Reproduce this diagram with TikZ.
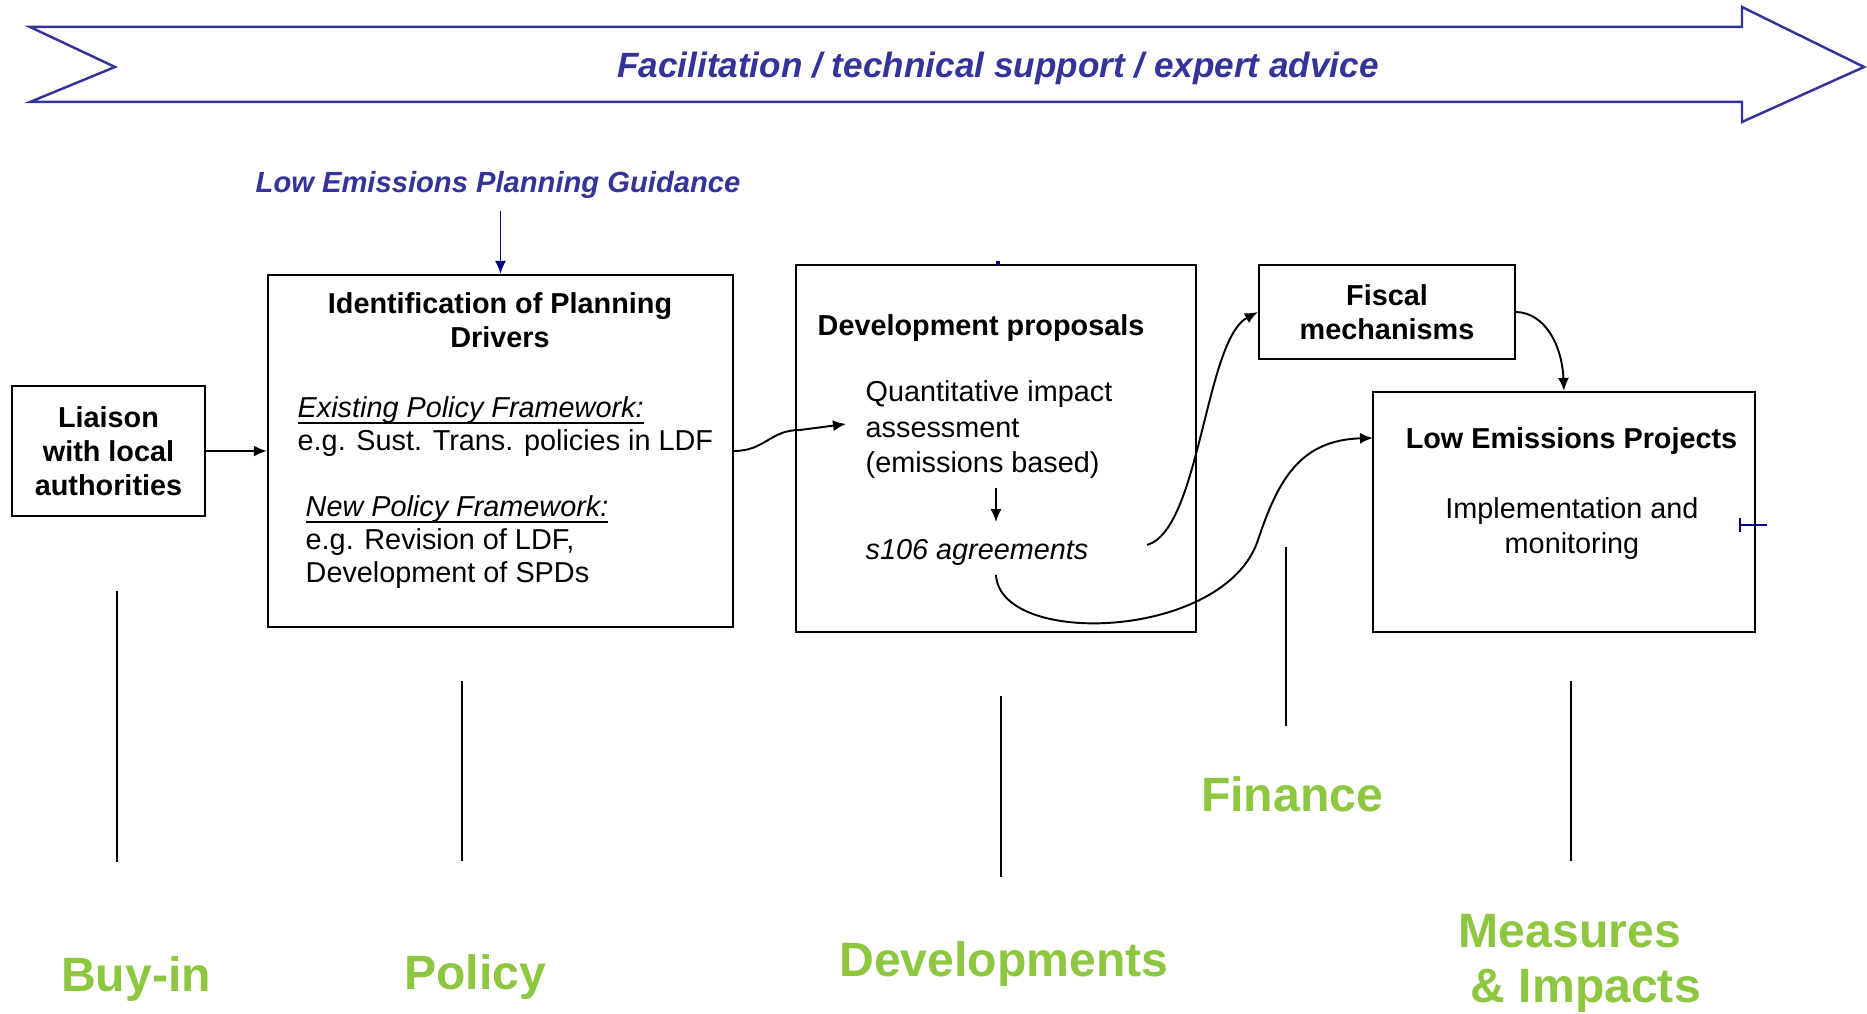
\documentclass[tikz,border=0pt]{standalone}
\usepackage{fontspec}
\setmainfont{Liberation Sans}
\usetikzlibrary{arrows.meta}
\definecolor{advblue}{RGB}{51,51,153}
\definecolor{guidenavy}{RGB}{0,0,128}
\definecolor{stagegreen}{RGB}{141,198,63}
\tikzset{
	box/.style={draw, line width=0.6pt, inner sep=0pt},
	boxtitle/.style={inner sep=0pt, font=\fontsize{8.2}{9.7}\selectfont\bfseries},
	boxtext/.style={inner sep=0pt, font=\fontsize{8.2}{9.4}\selectfont},
	stage/.style={inner sep=0pt, font=\fontsize{13.7}{15.9}\selectfont\bfseries, text=stagegreen},
	divider/.style={line width=0.5pt},
	link/.style={line width=0.55pt, -{Latex[length=1.3mm, width=1.1mm]}},
}

\begin{document}
\begin{tikzpicture}
		%%%%% START %%%%%
		\useasboundingbox (0,0) rectangle (18.67,10.14);
		
		\draw[line width=0.7pt, color=advblue] (0.30,9.87) -- (17.42,9.87) -- (17.42,10.07) -- (18.64,9.47) -- (17.42,8.92) -- (17.42,9.12) -- (0.30,9.12) -- (1.15,9.47) -- cycle;
		\node[font=\fontsize{10}{12}\selectfont\bfseries\itshape, text=advblue, anchor=base] (support) at (9.98,9.36) {Facilitation / technical support / expert advice};
		
		\node[font=\fontsize{8.3}{10}\selectfont\bfseries\itshape, text=advblue, anchor=base] (guide) at (4.98,8.21) {Low Emissions Planning Guidance};
		
		\node[box, minimum width=1.93cm, minimum height=1.30cm, align=center, boxtitle] (liaison) at (1.085,5.63) {Liaison\\with local\\authorities};
		\node[box, minimum width=4.65cm, minimum height=3.52cm] (ident) at (5.005,5.63) {};
		\node[box, minimum width=4.00cm, minimum height=3.67cm] (dev) at (9.96,5.655) {};
		\node[box, minimum width=2.56cm, minimum height=0.94cm, align=center, boxtitle] (fiscal) at (13.87,7.02) {Fiscal\\mechanisms};
		\node[box, minimum width=3.82cm, minimum height=2.40cm] (lep) at (15.64,5.02) {};
		
		\node[boxtitle, align=center, anchor=base] (identtitle) at (5.00,6.66) {Identification of Planning\\Drivers};
		\node[boxtext, align=left, anchor=base west] (existing) at (2.97,5.63) {\underline{\smash{\textit{Existing Policy Framework:}}}\\e.g. Sust. Trans. policies in LDF};
		\node[boxtext, align=left, anchor=base west] (newpol) at (3.05,4.31) {\underline{\smash{\textit{New Policy Framework:}}}\\e.g. Revision of LDF,\\Development of SPDs};
		
		\node[boxtitle, anchor=base west] (devtitle) at (8.17,6.78) {Development proposals};
		\node[boxtext, align=left, anchor=base west, font=\fontsize{8.2}{10.2}\selectfont] (quant) at (8.65,5.41) {Quantitative impact\\assessment\\(emissions based)};
		\node[boxtext, anchor=base west] (s106) at (8.65,4.54) {\textit{s106 agreements}};
		
		\node[boxtitle, anchor=base] (leptitle) at (15.715,5.65) {Low Emissions Projects};
		\node[boxtext, align=center, anchor=base, font=\fontsize{8.2}{10.2}\selectfont] (lepimpl) at (15.72,4.60) {Implementation and\\monitoring};
		
		\coordinate (qin) at (8.46,5.90);
		\coordinate (s106r) at (11.47,4.69);
		\coordinate (s106b) at (9.96,4.39);
		\coordinate (lepin) at (13.73,5.76);
		
		\draw[link, color=guidenavy] (guide.south -| ident.north) -- (ident.north);
		\draw[link, line width=0.7pt] (liaison) -- (ident);
		\draw[link] (ident.east) .. controls (7.65,5.63) and (7.70,5.84) .. (8.00,5.84) -- (qin);
		\draw[link] ([yshift=-0.08cm]quant.south -| dev.north) -- ([yshift=0.17cm]s106.north -| dev.north);
		\draw[link] (s106r) .. controls (12.00,4.84) and (12.05,6.74) .. (fiscal.west);
		\draw[link] (s106b) .. controls (10.00,3.66) and (12.25,3.74) .. (12.58,4.74) .. controls (12.78,5.34) and (13.00,5.74) .. (lepin);
		\draw[link] (fiscal.east) .. controls (15.45,7.01) and (15.62,6.69) .. (lep.north);
		
		\draw[{Bar[width=1.4mm]}-, line width=0.5pt, color=guidenavy] (17.39,4.89) -- (17.67,4.89);
		\draw[line width=1pt, color=guidenavy] (9.98,7.49) -- (9.98,7.53);
		
		\draw[divider] (1.17,4.23) -- (1.17,1.52);
		\draw[divider] (4.62,3.33) -- (4.62,1.53);
		\draw[divider] (10.01,3.18) -- (10.01,1.37);
		\draw[divider] (12.86,4.67) -- (12.86,2.88);
		\draw[divider] (15.71,3.33) -- (15.71,1.53);
		
		\node[stage, anchor=base] (buyin) at (1.36,0.22) {Buy-in};
		\node[stage, anchor=base] (policy) at (4.75,0.24) {Policy};
		\node[stage, anchor=base] (devs) at (10.04,0.37) {Developments};
		\node[stage, anchor=base] (finance) at (12.92,2.02) {Finance};
		\node[stage, anchor=base west, align=left] (measures) at (14.58,0.11) {Measures\\\hspace*{0.12cm}\& Impacts};
		
		%%%%% END %%%%%
\end{tikzpicture}
\end{document}
